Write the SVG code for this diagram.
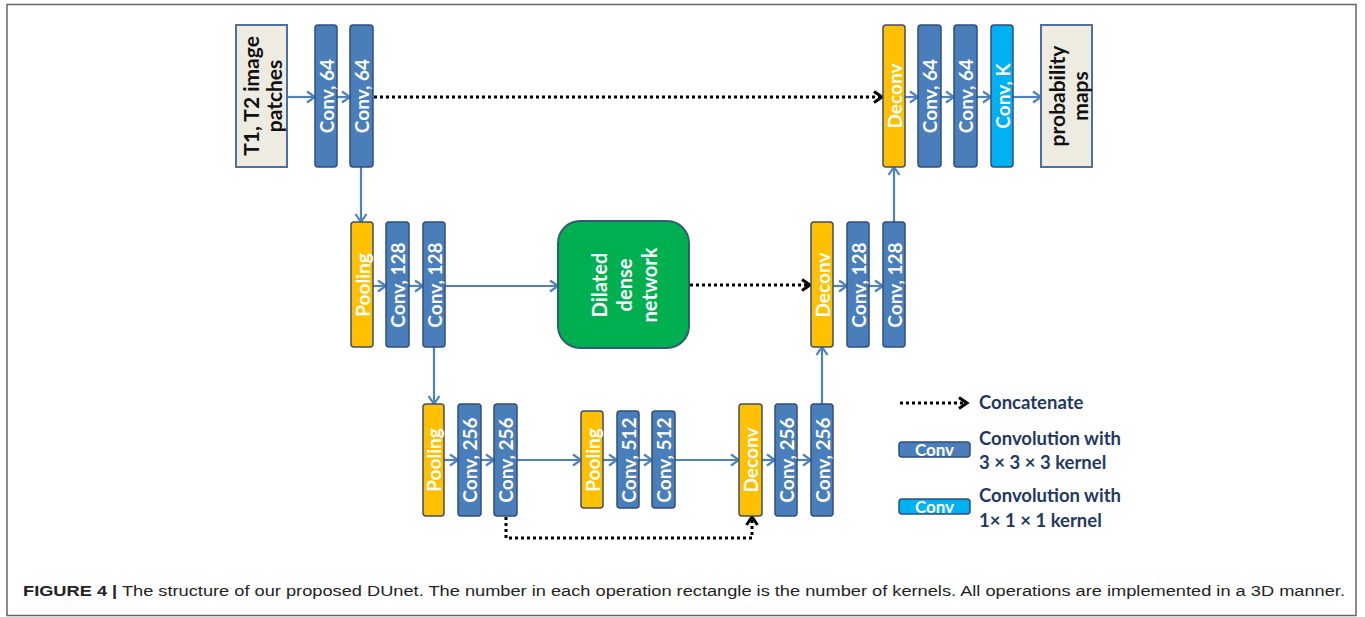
<svg xmlns="http://www.w3.org/2000/svg" width="1365" height="617" viewBox="0 0 1365 617">
<defs>
<style>
.conv{fill:#4a7ebb;stroke:#2f4f7f;stroke-width:1.5}
.pool{fill:#ffc000;stroke:#3f4f66;stroke-width:1.5}
.convk{fill:#00b0f0;stroke:#2f4f7f;stroke-width:1.5}
.io{fill:#eeece1;stroke:#4f6fa0;stroke-width:2}
.green{fill:#00b050;stroke:#2f5f6f;stroke-width:2}
.lbl{font-family:Lato,"Liberation Sans",sans-serif;font-weight:bold;font-size:19px;fill:#ffffff;text-anchor:middle;dominant-baseline:central}
.dark{fill:#111111;font-size:21px}
.big{font-size:20px}
.leg{font-family:Lato,"Liberation Sans",sans-serif;font-weight:bold;font-size:18.5px;fill:#1f3864}
.legc{font-family:Lato,"Liberation Sans",sans-serif;font-weight:bold;font-size:17px;fill:#ffffff;text-anchor:middle}
.arr{fill:none;stroke:#4f81bd;stroke-width:2.2;marker-end:url(#ab)}
.dot{fill:none;stroke:#000000;stroke-width:3;stroke-dasharray:3 3;marker-end:url(#ak)}
.cap{font-family:"Liberation Sans",Arial,sans-serif;font-size:15.5px;fill:#222222}
</style>
<marker id="ab" markerWidth="14" markerHeight="14" refX="11" refY="7" orient="auto" markerUnits="userSpaceOnUse"><path d="M3,1.5 L11,7 L3,12.5" fill="none" stroke="#4f81bd" stroke-width="2.2"/></marker>
<marker id="ak" markerWidth="14" markerHeight="14" refX="11" refY="7" orient="auto" markerUnits="userSpaceOnUse"><path d="M3,1.5 L11,7 L3,12.5" fill="none" stroke="#000000" stroke-width="3"/></marker>
</defs>
<rect x="7" y="4.5" width="1349" height="611" fill="#ffffff" stroke="#666666" stroke-width="1.5"/>

<g id="connectors">
<path class="arr" d="M287,97 H315"/>
<path class="arr" d="M337,97 H350"/>
<path class="dot" d="M374,97 H882"/>
<path class="arr" d="M361,167 V222"/>
<path class="arr" d="M373,286 H386"/>
<path class="arr" d="M409,286 H423"/>
<path class="arr" d="M445,286 H558"/>
<path class="dot" d="M690,285 H810"/>
<path class="arr" d="M833,286 H847"/>
<path class="arr" d="M869,286 H883"/>
<path class="arr" d="M894,222 V167"/>
<path class="arr" d="M905,97 H918"/>
<path class="arr" d="M941,97 H954"/>
<path class="arr" d="M977,97 H991"/>
<path class="arr" d="M1013,97 H1041"/>
<path class="arr" d="M434,347 V404"/>
<path class="arr" d="M444,460 H458"/>
<path class="arr" d="M481,460 H494"/>
<path class="arr" d="M517,460 H581"/>
<path class="arr" d="M603,460 H617"/>
<path class="arr" d="M639,460 H652"/>
<path class="arr" d="M675,460 H739"/>
<path class="arr" d="M762,460 H775"/>
<path class="arr" d="M797,460 H811"/>
<path class="arr" d="M822,404 V347"/>
<path class="dot" d="M506,517 V538 H752 V517"/>
<path class="dot" d="M900,403 H967"/>
</g>

<g id="input"><rect class="io" x="236" y="25" width="51" height="142"/>
<text class="lbl dark" transform="translate(250,96) rotate(-90)">T1, T2 image</text>
<text class="lbl dark" transform="translate(273,96) rotate(-90)">patches</text></g>
<g id="conv64a"><rect class="conv" x="315" y="25" width="22" height="142" rx="3"/><text class="lbl" transform="translate(326,96) rotate(-90)">Conv, 64</text></g>
<g id="conv64b"><rect class="conv" x="350" y="25" width="23" height="142" rx="3"/><text class="lbl" transform="translate(361.5,96) rotate(-90)">Conv, 64</text></g>

<g id="deconv1"><rect class="pool" x="883" y="25" width="22" height="142" rx="3"/><text class="lbl" transform="translate(894,96) rotate(-90)">Deconv</text></g>
<g id="conv64c"><rect class="conv" x="918" y="25" width="23" height="142" rx="3"/><text class="lbl" transform="translate(929.5,96) rotate(-90)">Conv, 64</text></g>
<g id="conv64d"><rect class="conv" x="954" y="25" width="23" height="142" rx="3"/><text class="lbl" transform="translate(965.5,96) rotate(-90)">Conv, 64</text></g>
<g id="convK"><rect class="convk" x="991" y="25" width="22" height="142" rx="3"/><text class="lbl" transform="translate(1002,96) rotate(-90)">Conv, K</text></g>
<g id="output"><rect class="io" x="1041" y="25" width="51" height="142"/>
<text class="lbl dark" transform="translate(1056,96) rotate(-90)">probability</text>
<text class="lbl dark" transform="translate(1079,96) rotate(-90)">maps</text></g>

<g id="pool1"><rect class="pool" x="351" y="222" width="22" height="125" rx="3"/><text class="lbl" transform="translate(362,285) rotate(-90)">Pooling</text></g>
<g id="conv128a"><rect class="conv" x="386" y="222" width="23" height="125" rx="3"/><text class="lbl" transform="translate(397.5,285) rotate(-90)">Conv, 128</text></g>
<g id="conv128b"><rect class="conv" x="423" y="222" width="22" height="125" rx="3"/><text class="lbl" transform="translate(434,285) rotate(-90)">Conv, 128</text></g>

<g id="dilated"><rect class="green" x="558" y="221" width="131" height="127" rx="22"/>
<text class="lbl big" transform="translate(599,285) rotate(-90)">Dilated</text>
<text class="lbl big" transform="translate(624,285) rotate(-90)">dense</text>
<text class="lbl big" transform="translate(649,285) rotate(-90)">network</text></g>

<g id="deconv2"><rect class="pool" x="811" y="222" width="22" height="125" rx="3"/><text class="lbl" transform="translate(822,285) rotate(-90)">Deconv</text></g>
<g id="conv128c"><rect class="conv" x="847" y="222" width="22" height="125" rx="3"/><text class="lbl" transform="translate(858,285) rotate(-90)">Conv, 128</text></g>
<g id="conv128d"><rect class="conv" x="883" y="222" width="22" height="125" rx="3"/><text class="lbl" transform="translate(894,285) rotate(-90)">Conv, 128</text></g>

<g id="pool2"><rect class="pool" x="423" y="404" width="21" height="112" rx="3"/><text class="lbl" transform="translate(433.5,460) rotate(-90)">Pooling</text></g>
<g id="conv256a"><rect class="conv" x="458" y="404" width="23" height="112" rx="3"/><text class="lbl" transform="translate(469.5,460) rotate(-90)">Conv, 256</text></g>
<g id="conv256b"><rect class="conv" x="494" y="404" width="23" height="112" rx="3"/><text class="lbl" transform="translate(505.5,460) rotate(-90)">Conv, 256</text></g>

<g id="pool3"><rect class="pool" x="581" y="411" width="22" height="97" rx="3"/><text class="lbl" transform="translate(592,460) rotate(-90)">Pooling</text></g>
<g id="conv512a"><rect class="conv" x="617" y="411" width="22" height="97" rx="3"/><text class="lbl" transform="translate(628,460) rotate(-90)">Conv, 512</text></g>
<g id="conv512b"><rect class="conv" x="652" y="411" width="23" height="97" rx="3"/><text class="lbl" transform="translate(663.5,460) rotate(-90)">Conv, 512</text></g>

<g id="deconv3"><rect class="pool" x="739" y="404" width="23" height="112" rx="3"/><text class="lbl" transform="translate(750.5,460) rotate(-90)">Deconv</text></g>
<g id="conv256c"><rect class="conv" x="775" y="404" width="22" height="112" rx="3"/><text class="lbl" transform="translate(786,460) rotate(-90)">Conv, 256</text></g>
<g id="conv256d"><rect class="conv" x="811" y="404" width="22" height="112" rx="3"/><text class="lbl" transform="translate(822,460) rotate(-90)">Conv, 256</text></g>

<g id="legend">
<text class="leg" x="979" y="409">Concatenate</text>
<rect class="conv" x="899" y="442" width="71" height="15" rx="3"/>
<text class="legc" x="934.5" y="456">Conv</text>
<text class="leg" x="979" y="445">Convolution with</text>
<text class="leg" x="979" y="469">3 × 3 × 3 kernel</text>
<rect class="convk" x="899" y="499" width="71" height="15" rx="3"/>
<text class="legc" x="934.5" y="513">Conv</text>
<text class="leg" x="979" y="502">Convolution with</text>
<text class="leg" x="979" y="527">1× 1 × 1 kernel</text>
</g>

<text class="cap" x="23" y="596" textLength="1322" lengthAdjust="spacingAndGlyphs"><tspan font-weight="bold">FIGURE 4 |</tspan> The structure of our proposed DUnet. The number in each operation rectangle is the number of kernels. All operations are implemented in a 3D manner.</text>
</svg>
